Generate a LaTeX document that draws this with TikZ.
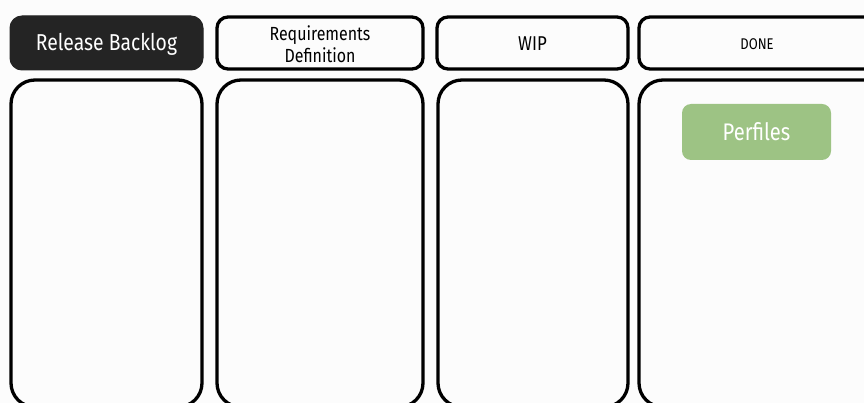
\documentclass[tikz,border=0pt]{standalone}
\usepackage{fontspec}
\setmainfont[FakeStretch=0.84]{Fira Sans}
\definecolor{cardgreen}{HTML}{9DC384}
\definecolor{bg}{HTML}{FCFCFC}
\begin{document}
\begin{tikzpicture}[x=1pt,y=-1pt,
  head/.style={draw=black, line width=3.3pt, rounded corners=11pt, fill=bg},
  body/.style={draw=black, line width=3.3pt, rounded corners=24pt, fill=bg},
  lbl/.style={font=\fontsize{17}{19}\selectfont, align=center}]
\useasboundingbox (0,0) rectangle (864,403);
\clip (0,0) rectangle (864,403);
\fill[bg] (0,0) rectangle (864,403);
% headers
\draw[fill=black!86, draw=black!86, line width=1pt, rounded corners=12pt] (10,16) rectangle (203,70);
\node[lbl, text=white, font=\fontsize{23}{25}\selectfont] (h1) at (106.5,44) {Release Backlog};
\draw[head] (217,17) rectangle (423,69);
\node[lbl, font=\fontsize{19}{22}\selectfont] (h2) at (320,44) {Requirements\\Definition};
\draw[head] (437,17) rectangle (628,69);
\node[lbl, font=\fontsize{20}{22}\selectfont] (h3) at (532.5,44) {WIP};
\draw[head] (639,17) rectangle (880,69);
\node[lbl, font=\fontsize{15.5}{17}\selectfont] (h4) at (757,44) {DONE};
% bodies
\draw[body] (11,80) rectangle (202,407);
\draw[body] (217,80) rectangle (423,407);
\draw[body] (438,80) rectangle (628,407);
\draw[body] (639,80) rectangle (890,407);
% card
\fill[cardgreen, rounded corners=9pt] (682,104) rectangle (831,160);
\node[lbl, text=white, font=\fontsize{24}{26}\selectfont] (card) at (756.5,132) {Perfiles};
\end{tikzpicture}
\end{document}
